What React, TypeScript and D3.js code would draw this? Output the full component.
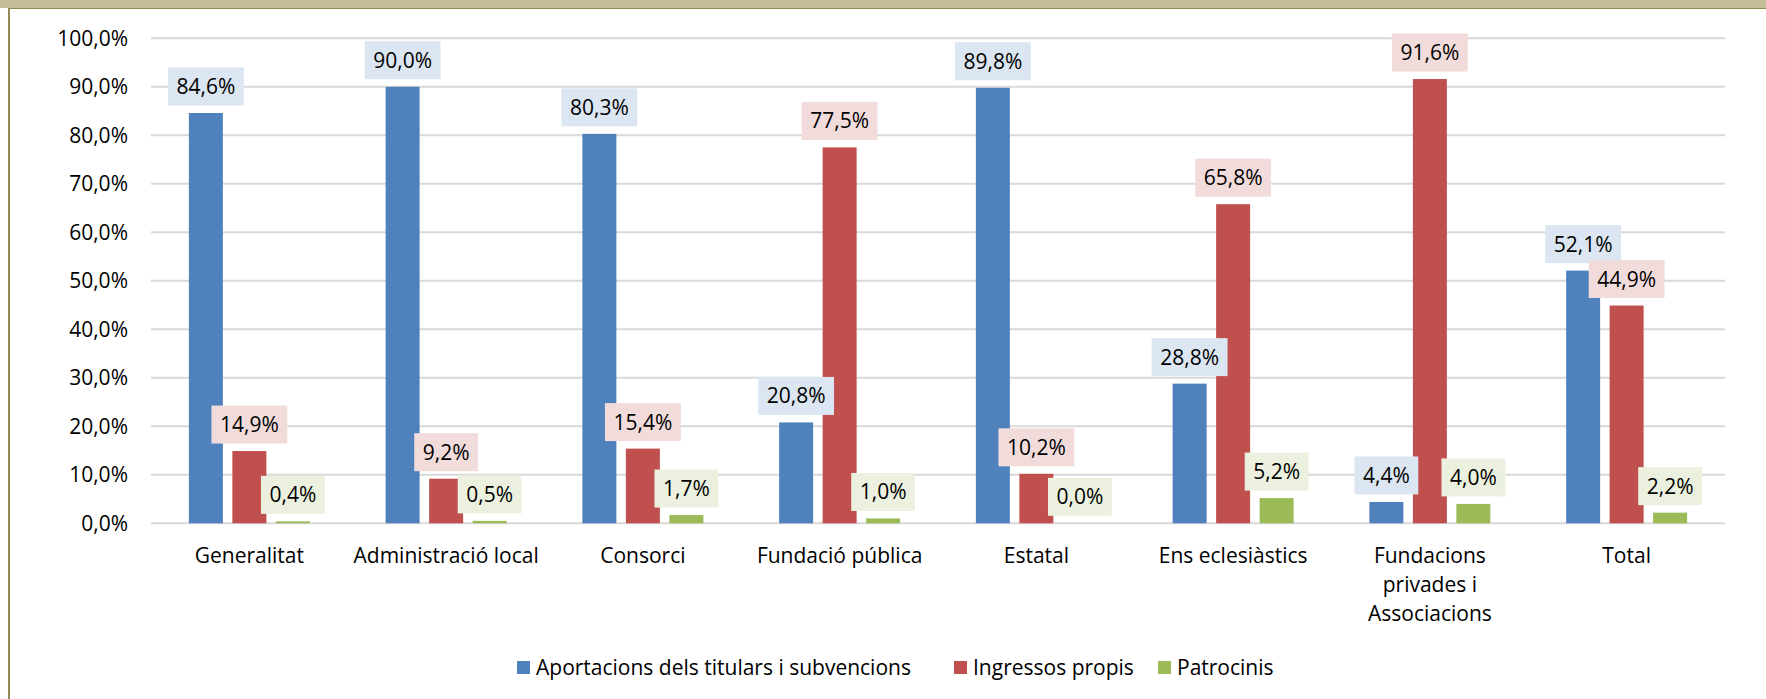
import React, { useEffect, useRef } from "react";
import * as d3 from "d3";

const categories = [
  "Generalitat",
  "Administració local",
  "Consorci",
  "Fundació pública",
  "Estatal",
  "Ens eclesiàstics",
  "Fundacions privades i Associacions",
  "Total",
];

// label lines for the x axis (wrapped like the original)
const categoryLines: string[][] = [
  ["Generalitat"],
  ["Administració local"],
  ["Consorci"],
  ["Fundació pública"],
  ["Estatal"],
  ["Ens eclesiàstics"],
  ["Fundacions", "privades i", "Associacions"],
  ["Total"],
];

const seriesNames = [
  "Aportacions dels titulars i subvencions",
  "Ingressos propis",
  "Patrocinis",
];

const aportacions = [84.6, 90.0, 80.3, 20.8, 89.8, 28.8, 4.4, 52.1];
const ingressos = [14.9, 9.2, 15.4, 77.5, 10.2, 65.8, 91.6, 44.9];
const patrocinis = [0.4, 0.5, 1.7, 1.0, 0.0, 5.2, 4.0, 2.2];

const yTicks = [0, 10, 20, 30, 40, 50, 60, 70, 80, 90, 100];

const barColors = ["#4F81BD", "#C0504D", "#9BBB59"];
const boxColors = ["#DCE6F2", "#F2DCDB", "#EBF1DE"];
const legendX = [517, 954, 1158];

const FONT = "'Open Sans', 'Noto Sans', sans-serif";
const FS = "21px";
const fmt = (v: number) => v.toFixed(1).replace(".", ",") + "%";

const W = 1766;
const H = 699;

const App: React.FC = () => {
  const svgRef = useRef<SVGSVGElement | null>(null);

  useEffect(() => {
    const svg = d3.select(svgRef.current);
    svg.selectAll("*").remove();

    const margin = { top: 38.3, left: 151, right: W - 1725, bottom: H - 523.3 };
    const values = [aportacions, ingressos, patrocinis];

    // frame (top band + left border)
    svg.append("rect").attr("x", 0).attr("y", 0).attr("width", W).attr("height", H).attr("fill", "#fff");
    svg.append("rect").attr("x", 0).attr("y", 0).attr("width", W).attr("height", 8).attr("fill", "#C4BD97");
    svg.append("line").attr("x1", 9).attr("x2", W).attr("y1", 8.5).attr("y2", 8.5).attr("stroke", "#948A54").attr("stroke-width", 1.2);
    svg.append("line").attr("x1", 9).attr("x2", 9).attr("y1", 8).attr("y2", H).attr("stroke", "#948A54").attr("stroke-width", 2);

    const x0 = d3.scaleBand<string>()
      .domain(categories)
      .range([margin.left, W - margin.right])
      .paddingInner(0)
      .paddingOuter(0);

    const x1 = d3.scaleBand<number>()
      .domain([0, 1, 2])
      .range([0, x0.bandwidth()])
      .paddingInner(0.2184)
      .paddingOuter(0.8707);

    const y = d3.scaleLinear().domain([0, 100]).range([H - margin.bottom, margin.top]);

    // gridlines
    svg.append("g")
      .selectAll("line")
      .data(yTicks)
      .enter()
      .append("line")
      .attr("x1", margin.left)
      .attr("x2", W - margin.right)
      .attr("y1", (d) => y(d))
      .attr("y2", (d) => y(d))
      .attr("stroke", "#D9D9D9")
      .attr("stroke-width", 2);

    // y tick labels
    svg.append("g")
      .selectAll("text")
      .data(yTicks)
      .enter()
      .append("text")
      .attr("x", 128)
      .attr("y", (d) => y(d) + 7.3)
      .attr("text-anchor", "end")
      .style("font-family", FONT)
      .style("font-size", FS)
      .attr("fill", "#000")
      .text((d) => fmt(d));

    // bars
    const groups = svg.append("g")
      .selectAll("g")
      .data(categories)
      .enter()
      .append("g")
      .attr("transform", (d) => `translate(${x0(d)},0)`);

    groups.each(function (_c, ci) {
      const g = d3.select(this);
      values.forEach((vals, si) => {
        const v = vals[ci];
        g.append("rect")
          .attr("x", x1(si) ?? 0)
          .attr("y", y(v))
          .attr("width", x1.bandwidth())
          .attr("height", y(0) - y(v))
          .attr("fill", barColors[si]);
      });
    });

    // data labels with filled boxes
    const labels = svg.append("g");
    categories.forEach((c, ci) => {
      values.forEach((vals, si) => {
        const v = vals[ci];
        const cx = (x0(c) ?? 0) + (x1(si) ?? 0) + x1.bandwidth() / 2;
        const bottom = y(v) - 7.5;
        const lg = labels.append("g");
        const box = lg.append("rect").attr("fill", boxColors[si]);
        const t = lg.append("text")
          .attr("x", cx)
          .attr("y", bottom - 19 + 7.5)
          .attr("text-anchor", "middle")
          .style("font-family", FONT)
          .style("font-size", FS)
          .attr("fill", "#000")
          .text(fmt(v));
        const tw = (t.node() as SVGTextElement).getComputedTextLength();
        box
          .attr("x", cx - tw / 2 - 8.5)
          .attr("y", bottom - 38)
          .attr("width", tw + 17)
          .attr("height", 38);
      });
    });

    // category labels
    const cat = svg.append("g");
    categories.forEach((c, ci) => {
      const cx = (x0(c) ?? 0) + x0.bandwidth() / 2;
      categoryLines[ci].forEach((line, li) => {
        cat.append("text")
          .attr("x", cx)
          .attr("y", 563 + li * 29)
          .attr("text-anchor", "middle")
          .style("font-family", FONT)
          .style("font-size", FS)
          .attr("fill", "#000")
          .text(line);
      });
    });

    // legend
    const legend = svg.append("g");
    seriesNames.forEach((name, si) => {
      legend.append("rect")
        .attr("x", legendX[si])
        .attr("y", 661)
        .attr("width", 13)
        .attr("height", 13)
        .attr("fill", barColors[si]);
      legend.append("text")
        .attr("x", legendX[si] + 19)
        .attr("y", 675)
        .style("font-family", FONT)
        .style("font-size", FS)
        .attr("fill", "#000")
        .text(name);
    });
  }, []);

  return (
    <div style={{ position: "absolute", left: 0, top: 0 }}>
      <svg ref={svgRef} width={W} height={H} style={{ display: "block" }}></svg>
    </div>
  );
};

export default App;
